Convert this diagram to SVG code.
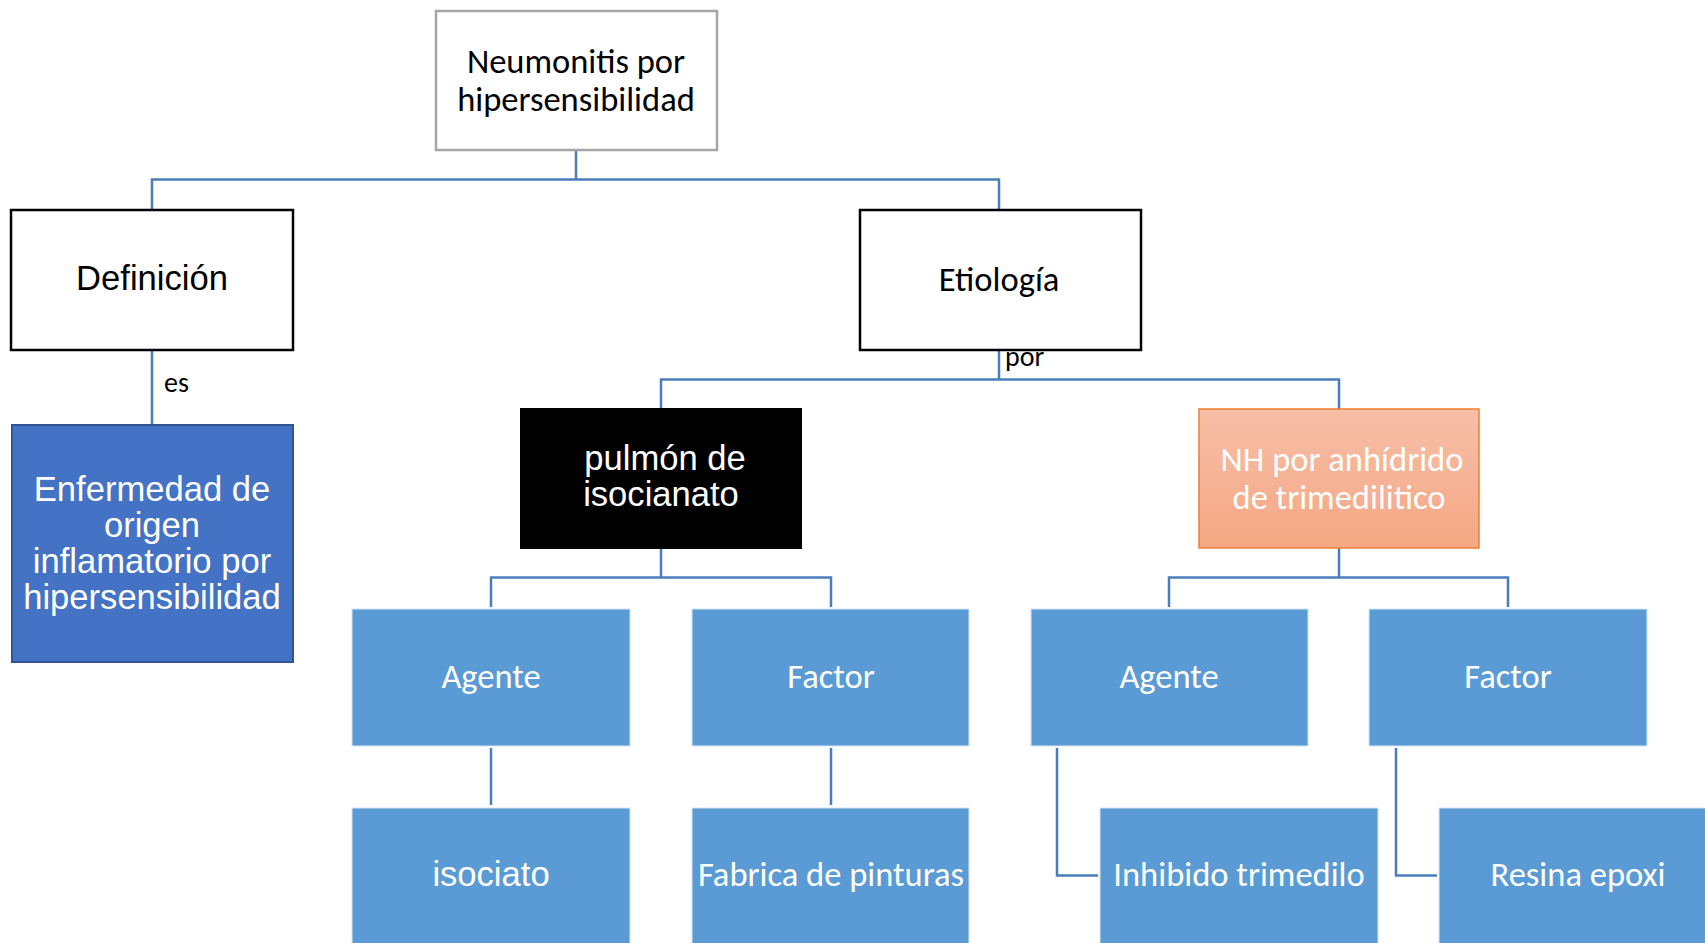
<svg xmlns="http://www.w3.org/2000/svg" width="1705" height="943" viewBox="0 0 1705 943">
<defs>
<linearGradient id="orangeGrad" x1="0" y1="0" x2="0" y2="1">
<stop offset="0" stop-color="#f7bfa8"/>
<stop offset="1" stop-color="#f4a783"/>
</linearGradient>
</defs>
<style>
.conn{fill:none;stroke:#4a7ebb;stroke-width:2.5}
.cal{font-family:Carlito,Lato,"Open Sans",sans-serif;font-size:34.5px;text-anchor:middle}
.ari{font-family:"Liberation Sans",Arial,sans-serif;font-size:34.6px;text-anchor:middle}
.lbl{font-family:Carlito,Lato,"Open Sans",sans-serif;font-size:28px}
.blue{fill:#5b9bd5;stroke:#d6e4f3;stroke-width:1}
.w{fill:#ffffff}
.k{fill:#000000}
</style>
<rect width="1705" height="943" fill="#ffffff"/>
<g id="connectors">
<path class="conn" d="M576,150 V179.5 M152,210 V179.5 H999 V210"/>
<path class="conn" d="M152,350 V424"/>
<path class="conn" d="M999,350 V379.5 M661,408 V379.5 H1339 V409"/>
<path class="conn" d="M661,549 V577.5 M491,607 V577.5 H831 V607"/>
<path class="conn" d="M1339,548 V577.5 M1169,607 V577.5 H1508 V607"/>
<path class="conn" d="M491,748 V805 M831,748 V805"/>
<path class="conn" d="M1057,748 V875.5 H1098"/>
<path class="conn" d="M1396,748 V875.5 H1437"/>
</g>
<g id="labels">
<text class="lbl k" x="164" y="392">es</text>
<text class="lbl k" x="1005" y="366">por</text>
</g>
<g id="n-root">
<rect x="436" y="11" width="281" height="139" fill="#ffffff" stroke="#a6a6a6" stroke-width="2.5"/>
<text class="cal k" x="576" y="73">Neumonitis por</text>
<text class="cal k" x="576" y="111">hipersensibilidad</text>
</g>
<g id="n-definicion">
<rect x="11" y="210" width="282" height="140" fill="#ffffff" stroke="#000000" stroke-width="2.5"/>
<text class="ari k" x="152" y="290">Definición</text>
</g>
<g id="n-etiologia">
<rect x="860" y="210" width="281" height="140" fill="#ffffff" stroke="#000000" stroke-width="2.5"/>
<text class="cal k" x="999" y="291">Etiología</text>
</g>
<g id="n-enfermedad">
<rect x="12" y="425" width="281" height="237" fill="#4472c4" stroke="#2f5597" stroke-width="2"/>
<text class="ari w" x="152" y="501">Enfermedad de</text>
<text class="ari w" x="152" y="537">origen</text>
<text class="ari w" x="152" y="573">inflamatorio por</text>
<text class="ari w" x="152" y="609">hipersensibilidad</text>
</g>
<g id="n-pulmon">
<rect x="520" y="408" width="282" height="141" fill="#000000"/>
<text class="ari w" x="665" y="470">pulmón de</text>
<text class="ari w" x="661" y="506">isocianato</text>
</g>
<g id="n-nh">
<rect x="1199" y="409" width="280" height="139" fill="url(#orangeGrad)" stroke="#ed7d31" stroke-width="1.5"/>
<text class="cal w" x="1342" y="471">NH por anhídrido</text>
<text class="cal w" x="1339" y="509">de trimedilitico</text>
</g>
<g id="n-agente1">
<rect class="blue" x="352" y="609" width="278" height="137"/>
<text class="cal w" x="491" y="688">Agente</text>
</g>
<g id="n-factor1">
<rect class="blue" x="692" y="609" width="277" height="137"/>
<text class="cal w" x="831" y="688">Factor</text>
</g>
<g id="n-agente2">
<rect class="blue" x="1031" y="609" width="277" height="137"/>
<text class="cal w" x="1169" y="688">Agente</text>
</g>
<g id="n-factor2">
<rect class="blue" x="1369" y="609" width="278" height="137"/>
<text class="cal w" x="1508" y="688">Factor</text>
</g>
<g id="n-isociato">
<rect class="blue" x="352" y="808" width="278" height="140"/>
<text class="ari w" x="491" y="886">isociato</text>
</g>
<g id="n-fabrica">
<rect class="blue" x="692" y="808" width="277" height="140"/>
<text class="cal w" x="831" y="886">Fabrica de pinturas</text>
</g>
<g id="n-inhibido">
<rect class="blue" x="1100" y="808" width="278" height="140"/>
<text class="cal w" x="1239" y="886">Inhibido trimedilo</text>
</g>
<g id="n-resina">
<rect class="blue" x="1439" y="808" width="278" height="140"/>
<text class="cal w" x="1578" y="886">Resina epoxi</text>
</g>
</svg>
